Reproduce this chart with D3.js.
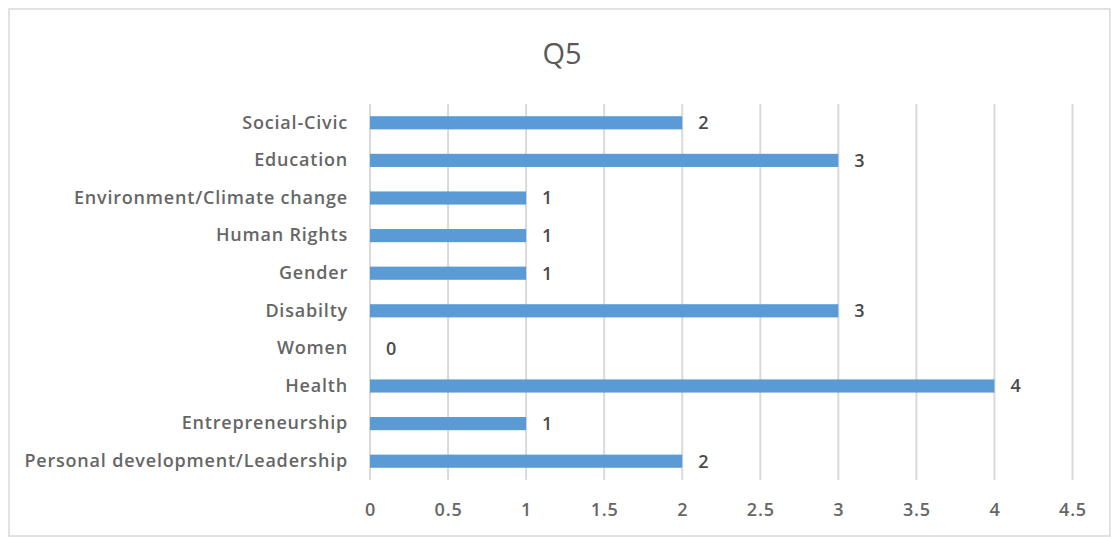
<!DOCTYPE html>
<html>
<head>
<meta charset="utf-8">
<script src="https://cdn.jsdelivr.net/npm/d3@7"></script>
<style>
  body { margin: 0; background: #fff; }
  text { font-family: "Open Sans", sans-serif; }
</style>
</head>
<body>
<div id="chart"></div>
<script>
// Q5 horizontal bar chart

const categories = [
  'Social-Civic',
  'Education',
  'Environment/Climate change',
  'Human Rights',
  'Gender',
  'Disabilty',
  'Women',
  'Health',
  'Entrepreneurship',
  'Personal development/Leadership'
];
const values = [2, 3, 1, 1, 1, 3, 0, 4, 1, 2];
const xTicks = [0, 0.5, 1, 1.5, 2, 2.5, 3, 3.5, 4, 4.5];

const width = 1111, height = 538;
const margin = { top: 104, right: 38, bottom: 58, left: 370 };

const svg = d3.select('#chart').append('svg')
  .attr('width', width)
  .attr('height', height);

// outer chart frame
svg.append('rect')
  .attr('x', 9).attr('y', 9)
  .attr('width', 1101).attr('height', 527)
  .attr('fill', '#fff')
  .attr('stroke', '#d9d9d9')
  .attr('stroke-width', 1.5);

svg.append('text')
  .attr('x', 562).attr('y', 64)
  .attr('text-anchor', 'middle')
  .attr('fill', '#595959')
  .style('font-size', '29px')
  .text('Q5');

const x = d3.scaleLinear()
  .domain([0, 4.5])
  .range([margin.left, width - margin.right - 0.5]);

const y = d3.scaleBand()
  .domain(categories)
  .range([margin.top, height - margin.bottom])
  .paddingInner(0.65)
  .paddingOuter(0.325);

// gridlines
svg.append('g')
  .selectAll('line')
  .data(xTicks)
  .join('line')
  .attr('x1', d => x(d)).attr('x2', d => x(d))
  .attr('y1', margin.top).attr('y2', height - margin.bottom)
  .attr('stroke', '#d9d9d9')
  .attr('stroke-width', 2);

const labelStyle = g => g
  .attr('fill', '#666666')
  .style('font-size', '18px')
  .style('font-weight', 600)
  .style('letter-spacing', '0.8px');

// x tick labels
svg.append('g')
  .attr('transform', `translate(0,${height - margin.bottom})`)
  .call(d3.axisBottom(x).tickValues(xTicks).tickSize(0).tickPadding(23).tickFormat(d3.format('')))
  .call(g => g.select('.domain').remove())
  .call(g => g.selectAll('text').call(labelStyle));

// category labels
svg.append('g')
  .attr('transform', `translate(${margin.left},0)`)
  .call(d3.axisLeft(y).tickSize(0).tickPadding(22))
  .call(g => g.select('.domain').remove())
  .call(g => g.selectAll('text').call(labelStyle));

// bars
svg.append('g')
  .selectAll('rect')
  .data(categories)
  .join('rect')
  .attr('x', x(0))
  .attr('y', d => y(d))
  .attr('width', (d, i) => x(values[i]) - x(0))
  .attr('height', y.bandwidth())
  .attr('fill', '#5b9bd5');

// value labels
svg.append('g')
  .selectAll('text')
  .data(categories)
  .join('text')
  .attr('x', (d, i) => x(values[i]) + 16)
  .attr('y', d => y(d) + y.bandwidth() / 2)
  .attr('dy', '0.35em')
  .attr('fill', '#4a4a4a')
  .style('font-size', '18px')
  .style('font-weight', 600)
  .text((d, i) => values[i]);
</script>
</body>
</html>
